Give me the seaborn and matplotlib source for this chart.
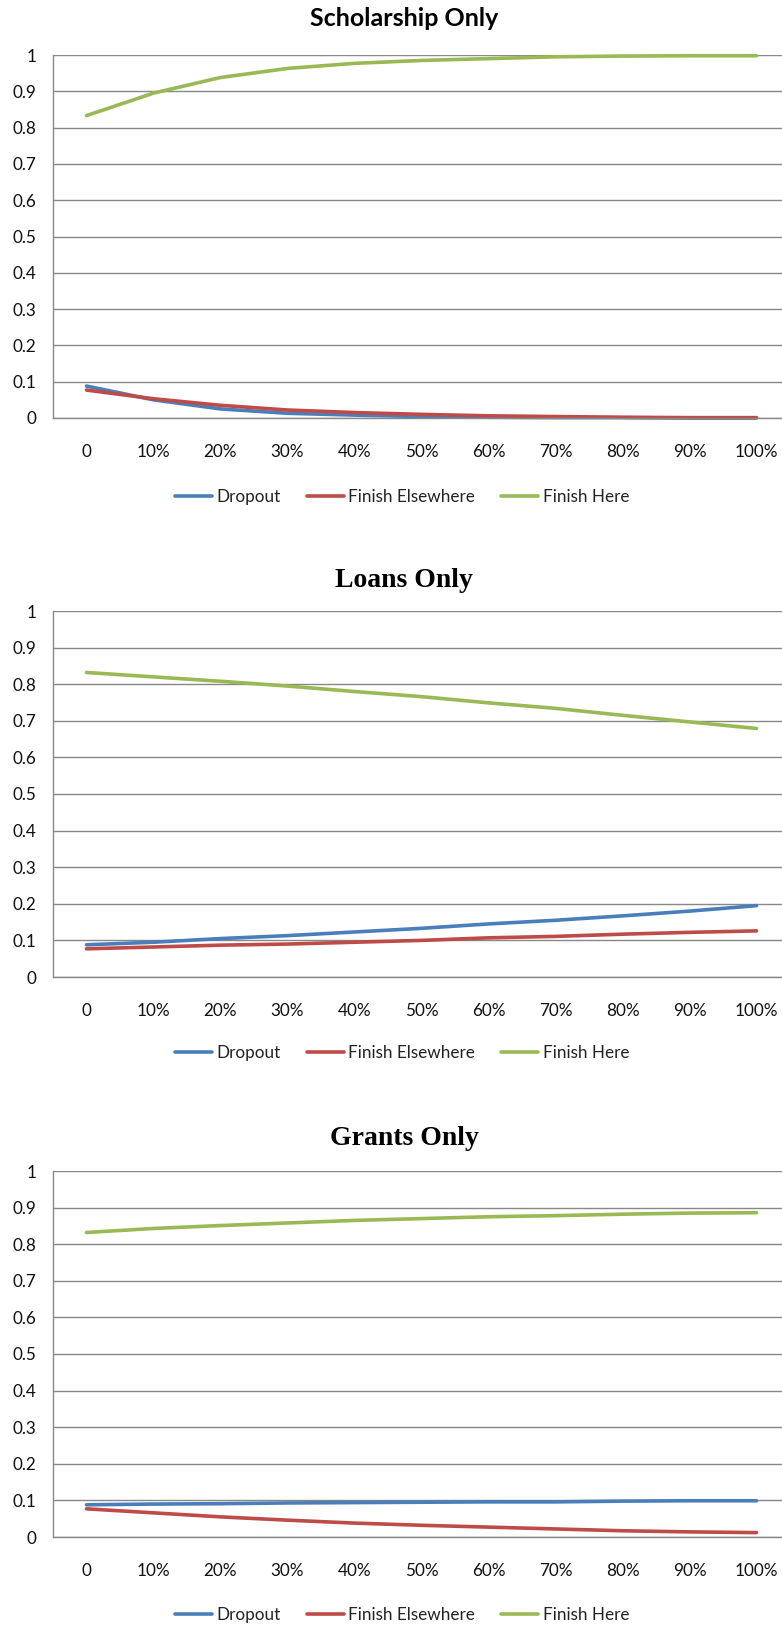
import matplotlib
matplotlib.use("Agg")
import matplotlib.pyplot as plt
from matplotlib.lines import Line2D
import pandas as pd
import seaborn as sns

# Share of aid (x) and resulting outcome probabilities for each aid type
x_labels = ["0", "10%", "20%", "30%", "40%", "50%", "60%", "70%", "80%", "90%", "100%"]
series_names = ["Dropout", "Finish Elsewhere", "Finish Here"]

scholarship_dropout = [0.088, 0.050, 0.025, 0.013, 0.008, 0.004, 0.002, 0.001, 0.001, 0.000, 0.000]
scholarship_elsewhere = [0.077, 0.053, 0.035, 0.022, 0.015, 0.010, 0.006, 0.004, 0.002, 0.001, 0.001]
scholarship_here = [0.833, 0.895, 0.938, 0.963, 0.977, 0.985, 0.990, 0.995, 0.997, 0.998, 0.998]

loans_dropout = [0.088, 0.095, 0.105, 0.113, 0.123, 0.133, 0.145, 0.155, 0.167, 0.180, 0.195]
loans_elsewhere = [0.077, 0.082, 0.087, 0.090, 0.095, 0.100, 0.107, 0.111, 0.117, 0.122, 0.126]
loans_here = [0.832, 0.820, 0.808, 0.795, 0.780, 0.766, 0.749, 0.734, 0.715, 0.697, 0.679]

grants_dropout = [0.088, 0.090, 0.091, 0.093, 0.094, 0.095, 0.096, 0.096, 0.098, 0.099, 0.099]
grants_elsewhere = [0.077, 0.066, 0.055, 0.046, 0.038, 0.032, 0.027, 0.022, 0.017, 0.014, 0.012]
grants_here = [0.832, 0.843, 0.851, 0.858, 0.865, 0.870, 0.875, 0.878, 0.882, 0.885, 0.886]

panels = [
    ("Scholarship Only", [scholarship_dropout, scholarship_elsewhere, scholarship_here]),
    ("Loans Only", [loans_dropout, loans_elsewhere, loans_here]),
    ("Grants Only", [grants_dropout, grants_elsewhere, grants_here]),
]

colors = {"Dropout": "#4A7EBB", "Finish Elsewhere": "#BE4B48", "Finish Here": "#98B954"}

sns.set_theme(style="white")
plt.rcParams["font.family"] = ["Lato", "DejaVu Sans"]

W, H = 782, 1627
fig = plt.figure(figsize=(W / 100, H / 100), dpi=100)

# pixel layout of each panel: (title baseline y, y of value 1, y of value 0, legend y, title font)
layout = [
    (26, 55, 418, 497, dict(family=["Lato", "DejaVu Sans"], size=18, weight="bold")),
    (587, 611, 977, 1053, dict(family=["Liberation Serif", "DejaVu Serif"], size=20, weight="bold")),
    (1145, 1171, 1537, 1615, dict(family=["Liberation Serif", "DejaVu Serif"], size=20, weight="bold")),
]

grid_color = "#888888"
left_px, right_px = 53, 790
fs = 12.3

for (title, values), (t_y, top_y, bot_y, leg_y, tfont) in zip(panels, layout):
    ax = fig.add_axes([left_px / W, 1 - bot_y / H, (right_px - left_px) / W, (bot_y - top_y) / H])
    rows = []
    for name, vals in zip(series_names, values):
        for i, v in enumerate(vals):
            rows.append({"x": i, "value": v, "series": name})
    df = pd.DataFrame(rows)
    sns.lineplot(data=df, x="x", y="value", hue="series", palette=colors,
                 linewidth=2.6, ax=ax, legend=False, sort=False)
    for ln in ax.lines:
        ln.set_clip_on(False)
        ln.set_solid_capstyle("round")

    ax.set_xlim(-0.5, 10.5)
    ax.set_ylim(0, 1)
    ax.set_yticks([i / 10 for i in range(11)])
    ax.set_yticklabels(["0", "0.1", "0.2", "0.3", "0.4", "0.5", "0.6", "0.7", "0.8", "0.9", "1"])
    ax.set_xticks(range(len(x_labels)))
    ax.set_xticklabels(x_labels)
    ax.set_xlabel("")
    ax.set_ylabel("")
    ax.yaxis.grid(True, color=grid_color, linewidth=1.0)
    ax.xaxis.grid(False)
    ax.set_axisbelow(True)
    for side in ("top", "right"):
        ax.spines[side].set_visible(False)
    for side in ("left", "bottom"):
        ax.spines[side].set_visible(True)
        ax.spines[side].set_color(grid_color)
        ax.spines[side].set_linewidth(1.0)
    ax.tick_params(axis="y", length=0, pad=12, labelsize=fs, labelcolor="#111111")
    ax.tick_params(axis="x", length=0, pad=19, labelsize=fs, labelcolor="#111111")

    fig.text(404 / W, 1 - t_y / H, title, ha="center", va="baseline", color="black", **tfont)

    handles = [Line2D([0], [0], color=colors[n], linewidth=2.6, solid_capstyle="round") for n in series_names]
    fig.legend(handles, series_names, loc="center", bbox_to_anchor=(402 / W, 1 - leg_y / H),
               ncol=3, frameon=False, fontsize=fs, handlelength=2.2, handletextpad=0.25,
               columnspacing=1.5, labelcolor="#222222")

fig.savefig("out.png", dpi=100, facecolor="white")
